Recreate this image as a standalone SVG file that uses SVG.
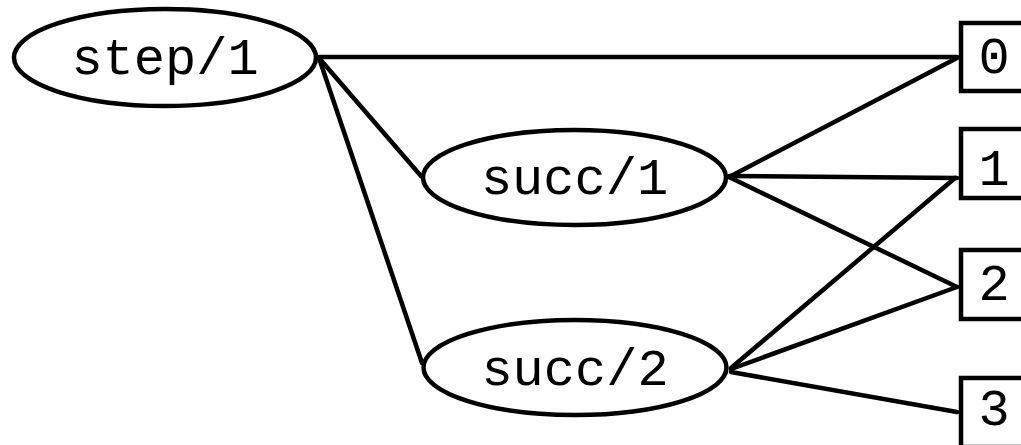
<svg xmlns="http://www.w3.org/2000/svg" width="1021" height="445" viewBox="0 0 1021 445">
<style>
.n { fill: #fff; stroke: #000; stroke-width: 4.5; }
.e { fill: none; stroke: #000; stroke-width: 4.5; stroke-linecap: round; }
.t { font-family: "Liberation Mono", "Courier New", monospace; font-size: 52px; fill: #000; text-anchor: middle; }
</style>
<rect width="1021" height="445" fill="#fff"/>
<g id="edges">
<line class="e" x1="319" y1="57" x2="957" y2="57"/>
<line class="e" x1="319" y1="58" x2="421" y2="176"/>
<line class="e" x1="319" y1="58" x2="422" y2="363"/>
<line class="e" x1="729" y1="177" x2="957" y2="58"/>
<line class="e" x1="729" y1="176" x2="957" y2="178"/>
<line class="e" x1="729" y1="177" x2="957" y2="287"/>
<line class="e" x1="731" y1="368" x2="955" y2="178"/>
<line class="e" x1="731" y1="369" x2="957" y2="287"/>
<line class="e" x1="731" y1="372" x2="957" y2="412"/>
</g>
<g id="step1">
<ellipse class="n" cx="165" cy="57.5" rx="151" ry="48.5"/>
<text class="t" x="165" y="74">step/1</text>
</g>
<g id="succ1">
<ellipse class="n" cx="574.5" cy="177.5" rx="151.5" ry="47.5"/>
<text class="t" x="574.5" y="194">succ/1</text>
</g>
<g id="succ2">
<ellipse class="n" cx="575" cy="367.5" rx="151.5" ry="47.5"/>
<text class="t" x="575" y="385">succ/2</text>
</g>
<g id="n0">
<rect class="n" x="961" y="23" width="100" height="68"/>
<text class="t" x="994" y="73">0</text>
</g>
<g id="n1">
<rect class="n" x="961" y="129" width="100" height="69"/>
<text class="t" x="994" y="185">1</text>
</g>
<g id="n2">
<rect class="n" x="961" y="250" width="100" height="69"/>
<text class="t" x="994" y="300">2</text>
</g>
<g id="n3">
<rect class="n" x="961" y="378" width="100" height="69"/>
<text class="t" x="994" y="425">3</text>
</g>
</svg>
